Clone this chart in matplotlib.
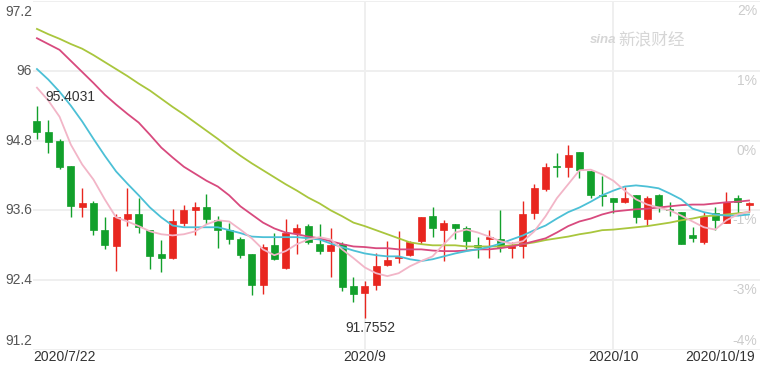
import matplotlib

matplotlib.use("Agg")
import matplotlib.pyplot as plt  # noqa: E402
import numpy as np  # noqa: E402
import pandas as pd  # noqa: E402

plt.rcParams["font.family"] = ["Liberation Sans", "Noto Sans CJK SC", "DejaVu Sans"]

# daily candles, 2020/7/22 .. 2020/10/19 (weekdays)
dates = pd.bdate_range("2020-07-22", "2020-10-19")

opens = [95.14, 94.94, 94.80, 94.37, 93.65, 93.72, 93.27, 92.98, 93.45, 93.53,
         93.27, 92.85, 92.78, 93.39, 93.60, 93.65, 93.43, 93.27, 93.10, 92.85,
         92.31, 93.00, 92.61, 93.21, 93.33, 93.02, 92.90, 93.02, 92.30, 92.18,
         92.31, 92.66, 92.78, 92.83, 93.07, 93.50, 93.27, 93.36, 93.29, 93.00,
         93.10, 93.10, 92.95, 92.98, 93.55, 93.96, 94.35, 94.34, 94.61, 94.27,
         93.87, 93.82, 93.74, 93.86, 93.46, 93.86, 93.63, 93.58, 93.17, 93.05,
         93.55, 93.39, 93.81, 93.69]
closes = [94.95, 94.78, 94.34, 93.67, 93.72, 93.27, 93.00, 93.48, 93.53, 93.31,
          92.81, 92.78, 93.41, 93.60, 93.65, 93.45, 93.27, 93.10, 92.83, 92.31,
          92.97, 92.76, 93.21, 93.29, 93.05, 92.90, 93.00, 92.28, 92.16, 92.30,
          92.64, 92.74, 92.79, 93.05, 93.48, 93.29, 93.39, 93.29, 93.07, 92.97,
          93.14, 92.97, 92.98, 93.53, 93.98, 94.34, 94.34, 94.56, 94.29, 93.86,
          93.84, 93.74, 93.82, 93.48, 93.82, 93.67, 93.60, 93.03, 93.12, 93.51,
          93.43, 93.75, 93.75, 93.72]
highs = [95.4031, 95.16, 94.82, 94.37, 93.99, 93.77, 93.48, 93.53, 93.98, 93.82,
         93.27, 93.09, 93.62, 93.69, 93.74, 93.89, 93.50, 93.39, 93.14, 92.85,
         93.03, 93.22, 93.46, 93.36, 93.36, 93.36, 93.29, 93.05, 92.45, 92.38,
         92.86, 93.07, 93.24, 93.07, 93.48, 93.65, 93.43, 93.36, 93.33, 93.15,
         93.27, 93.60, 93.05, 93.77, 94.06, 94.42, 94.58, 94.73, 94.61, 94.27,
         94.20, 93.82, 94.01, 93.87, 93.84, 93.89, 93.75, 93.58, 93.31, 93.57,
         93.65, 93.91, 93.87, 93.75]
lows = [94.83, 94.59, 94.32, 93.48, 93.48, 93.17, 92.93, 92.55, 93.33, 93.22,
        92.59, 92.54, 92.76, 93.33, 93.17, 93.36, 92.95, 93.03, 92.79, 92.14,
        92.16, 92.74, 92.59, 92.85, 93.03, 92.85, 92.45, 92.21, 92.02, 91.7552,
        92.23, 92.64, 92.69, 92.81, 93.02, 93.15, 92.73, 93.10, 92.93, 92.79,
        92.79, 92.88, 92.79, 92.78, 93.46, 93.93, 94.18, 94.18, 94.15, 93.82,
        93.67, 93.55, 93.72, 93.39, 93.33, 93.57, 93.51, 93.02, 93.05, 93.03,
        93.27, 93.38, 93.53, 93.58]

ma5 = [95.71, 95.49, 95.21, 94.73, 94.39, 94.13, 93.79, 93.48, 93.41, 93.33,
       93.24, 93.19, 93.17, 93.19, 93.24, 93.36, 93.43, 93.41, 93.27, 93.12,
       92.93, 92.83, 92.90, 93.02, 93.10, 93.14, 93.10, 92.93, 92.78, 92.62,
       92.52, 92.47, 92.52, 92.64, 92.73, 92.81, 93.02, 93.22, 93.27, 93.22,
       93.15, 93.07, 93.03, 93.07, 93.24, 93.50, 93.81, 94.05, 94.29, 94.30,
       94.22, 94.11, 93.94, 93.79, 93.70, 93.65, 93.60, 93.51, 93.41, 93.31,
       93.27, 93.43, 93.53, 93.58]
ma10 = [96.03, 95.85, 95.64, 95.40, 95.13, 94.83, 94.54, 94.27, 94.06, 93.86,
        93.65, 93.48, 93.34, 93.31, 93.31, 93.31, 93.31, 93.26, 93.21, 93.15,
        93.14, 93.14, 93.14, 93.14, 93.12, 93.10, 93.03, 92.97, 92.91, 92.86,
        92.83, 92.81, 92.81, 92.76, 92.73, 92.76, 92.81, 92.86, 92.90, 92.93,
        92.97, 93.03, 93.10, 93.17, 93.26, 93.34, 93.46, 93.57, 93.65, 93.75,
        93.86, 93.94, 94.01, 94.03, 94.01, 93.98, 93.89, 93.79, 93.63, 93.57,
        93.53, 93.51, 93.51, 93.53]
ma20 = [96.56, 96.46, 96.36, 96.17, 95.98, 95.79, 95.59, 95.42, 95.26, 95.11,
        94.90, 94.68, 94.51, 94.35, 94.23, 94.11, 94.01, 93.86, 93.67, 93.53,
        93.39, 93.29, 93.22, 93.19, 93.15, 93.12, 93.07, 93.02, 92.98, 92.97,
        92.95, 92.95, 92.93, 92.93, 92.93, 92.91, 92.90, 92.90, 92.91, 92.93,
        92.93, 92.95, 92.98, 93.02, 93.07, 93.12, 93.22, 93.33, 93.41, 93.46,
        93.53, 93.58, 93.60, 93.62, 93.63, 93.65, 93.67, 93.69, 93.70, 93.70,
        93.72, 93.74, 93.75, 93.77]
ma30 = [96.72, 96.63, 96.55, 96.46, 96.38, 96.27, 96.15, 96.03, 95.91, 95.78,
        95.66, 95.52, 95.38, 95.25, 95.11, 94.97, 94.83, 94.68, 94.54, 94.41,
        94.29, 94.17, 94.05, 93.94, 93.82, 93.72, 93.60, 93.50, 93.39, 93.33,
        93.26, 93.19, 93.12, 93.05, 93.02, 93.00, 93.00, 93.00, 92.98, 92.98,
        92.98, 92.98, 93.00, 93.02, 93.05, 93.09, 93.12, 93.15, 93.19, 93.22,
        93.26, 93.27, 93.29, 93.31, 93.33, 93.36, 93.39, 93.43, 93.46, 93.50,
        93.51, 93.53, 93.55, 93.57]

y_ticks = [97.2, 96.0, 94.8, 93.6, 92.4, 91.2]
y_labels = ["97.2", "96", "94.8", "93.6", "92.4", "91.2"]
pct_labels = ["2%", "1%", "0%", "-1%", "-3%", "-4%"]
x_tick_dates = ["2020-07-22", "2020-09-01", "2020-10-01", "2020-10-19"]
x_tick_labels = ["2020/7/22", "2020/9", "2020/10", "2020/10/19"]
month_lines = ["2020-09-01", "2020-10-01"]

RED = "#e8261f"
GREEN = "#12a02b"

fig = plt.figure(figsize=(7.6, 3.66), dpi=100)
ax = fig.add_axes([33 / 760, 16 / 366, 727 / 760, 349 / 366])
ax.set_xlim(-0.35, 63.97)
ax.set_ylim(91.2, 97.2)
ax.axis("off")

x = np.arange(len(dates))
o = np.array(opens)
c = np.array(closes)
up = c >= o
colors = np.where(up, RED, GREEN)

# grid
for yv in y_ticks:
    ax.axhline(yv, color="#efefef", lw=1.4, zorder=0)
for d in month_lines:
    ax.axvline(dates.get_loc(pd.Timestamp(d)), color="#efefef", lw=1.4, zorder=0)

# left labels
lt = ax.get_yaxis_transform()
for yv, lab in zip(y_ticks, y_labels):
    va, dy = "center", 0
    if yv == y_ticks[0]:
        va, dy = "top", -4
    elif yv == y_ticks[-1]:
        va, dy = "bottom", 2
    ax.annotate(lab, (0, yv), xycoords=lt, xytext=(-1, dy), textcoords="offset pixels",
                ha="right", va=va, fontsize=10, color="#555555", annotation_clip=False)

# right percent labels (under the marks)
for yv, lab in zip(y_ticks, pct_labels):
    va, dy = "top", -3
    if yv == y_ticks[-1]:
        va, dy = "bottom", 2
    ax.annotate(lab, (1, yv), xycoords=lt, xytext=(-3, dy), textcoords="offset pixels",
                ha="right", va=va, fontsize=10, color="#cccccc", zorder=0.5,
                annotation_clip=False)

# candles
ax.vlines(x, lows, highs, colors=colors, lw=1, zorder=2)
body_lo = np.minimum(o, c)
body_h = np.maximum(np.abs(c - o), 0.025)
ax.bar(x, body_h, bottom=body_lo, width=0.62, color=colors, edgecolor=colors,
       lw=0.5, zorder=2.1)

# moving averages
ax.plot(x, ma30, color="#a9c63d", lw=1.3, zorder=3)
ax.plot(x, ma20, color="#d84a7e", lw=1.3, zorder=3)
ax.plot(x, ma10, color="#4cc0d6", lw=1.3, zorder=3)
ax.plot(x, ma5, color="#f2b5c7", lw=1.3, zorder=3)

# high / low marks
i_hi = int(np.argmax(highs))
i_lo = int(np.argmin(lows))
ax.annotate(f"{highs[i_hi]:.4f}", (i_hi, highs[i_hi]), xytext=(8, 2),
            textcoords="offset pixels", ha="left", va="bottom", fontsize=10,
            color="#333333", zorder=4)
ax.annotate(f"{lows[i_lo]:.4f}", (i_lo, lows[i_lo]), xytext=(6, -3),
            textcoords="offset pixels", ha="center", va="top", fontsize=10,
            color="#333333", zorder=4)

# x labels
xt = ax.get_xaxis_transform()
for d, lab in zip(x_tick_dates, x_tick_labels):
    xi = dates.get_loc(pd.Timestamp(d))
    ha = "center"
    if d == x_tick_dates[0]:
        ha = "left"
        xi = -0.35
    elif d == x_tick_dates[-1]:
        ha = "right"
        xi = xi + 0.55
    ax.annotate(lab, (xi, 0), xycoords=xt, xytext=(0, -7), textcoords="offset pixels",
                ha=ha, va="center", fontsize=10, color="#333333", annotation_clip=False)

# watermark
fig.text(590 / 760, 1 - 40 / 366, "sina", fontsize=9.5, style="italic", weight="bold",
         color="#d6d6d6", ha="left", va="center")
fig.text(618 / 760, 1 - 40 / 366, "新浪财经", fontsize=12, color="#d6d6d6",
         family=["Noto Sans CJK SC", "DejaVu Sans"], ha="left", va="center")

fig.savefig("out.png", dpi=100)
